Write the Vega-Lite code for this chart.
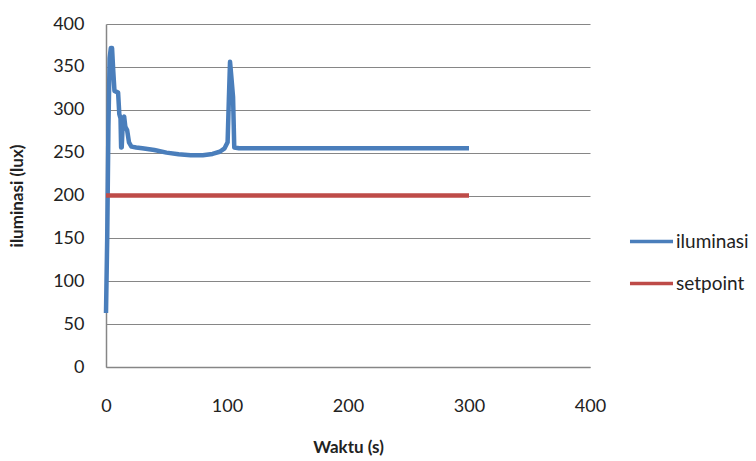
{
  "$schema": "https://vega.github.io/schema/vega-lite/v6.json",
  "width": 484,
  "height": 343,
  "autosize": {"type": "none"},
  "padding": {"left": 106, "top": 24, "right": 166, "bottom": 94},
  "background": "white",
  "config": {
    "view": {"stroke": null},
    "font": "Lato"
  },
  "data": {
    "values": [
      {"t": 0, "v": 63, "s": "iluminasi"},
      {"t": 1, "v": 150, "s": "iluminasi"},
      {"t": 2, "v": 280, "s": "iluminasi"},
      {"t": 3, "v": 360, "s": "iluminasi"},
      {"t": 4, "v": 372, "s": "iluminasi"},
      {"t": 5, "v": 372, "s": "iluminasi"},
      {"t": 6, "v": 345, "s": "iluminasi"},
      {"t": 7, "v": 322, "s": "iluminasi"},
      {"t": 10, "v": 320, "s": "iluminasi"},
      {"t": 11, "v": 295, "s": "iluminasi"},
      {"t": 12, "v": 290, "s": "iluminasi"},
      {"t": 12.5, "v": 256, "s": "iluminasi"},
      {"t": 13, "v": 256, "s": "iluminasi"},
      {"t": 14, "v": 290, "s": "iluminasi"},
      {"t": 15, "v": 292, "s": "iluminasi"},
      {"t": 16, "v": 280, "s": "iluminasi"},
      {"t": 17.5, "v": 276, "s": "iluminasi"},
      {"t": 19, "v": 262, "s": "iluminasi"},
      {"t": 21, "v": 257, "s": "iluminasi"},
      {"t": 25, "v": 256, "s": "iluminasi"},
      {"t": 30, "v": 255, "s": "iluminasi"},
      {"t": 40, "v": 253, "s": "iluminasi"},
      {"t": 50, "v": 250, "s": "iluminasi"},
      {"t": 60, "v": 248, "s": "iluminasi"},
      {"t": 70, "v": 247, "s": "iluminasi"},
      {"t": 80, "v": 247, "s": "iluminasi"},
      {"t": 88, "v": 248.5, "s": "iluminasi"},
      {"t": 94, "v": 251, "s": "iluminasi"},
      {"t": 98, "v": 255, "s": "iluminasi"},
      {"t": 100.5, "v": 262, "s": "iluminasi"},
      {"t": 101.5, "v": 310, "s": "iluminasi"},
      {"t": 102.5, "v": 356, "s": "iluminasi"},
      {"t": 103.5, "v": 340, "s": "iluminasi"},
      {"t": 105, "v": 315, "s": "iluminasi"},
      {"t": 106, "v": 256, "s": "iluminasi"},
      {"t": 110, "v": 255, "s": "iluminasi"},
      {"t": 300, "v": 255, "s": "iluminasi"},
      {"t": 0, "v": 200, "s": "setpoint"},
      {"t": 300, "v": 200, "s": "setpoint"}
    ]
  },
  "mark": {"type": "line", "strokeWidth": 4.5, "strokeJoin": "round", "strokeCap": "butt"},
  "encoding": {
    "x": {
      "field": "t", "type": "quantitative",
      "scale": {"domain": [0, 400], "nice": false},
      "axis": {
        "values": [0, 100, 200, 300, 400],
        "grid": false, "ticks": false, "labelFlush": false,
        "domainColor": "#868686", "domainWidth": 1.5,
        "labelFont": "Lato", "labelFontSize": 18, "labelColor": "#222222", "labelPadding": 30,
        "title": "Waktu (s)", "titleFont": "Lato", "titleFontSize": 17, "titleFontWeight": "bold",
        "titleColor": "#222222", "titlePadding": 24
      }
    },
    "y": {
      "field": "v", "type": "quantitative",
      "scale": {"domain": [0, 400], "nice": false},
      "axis": {
        "values": [0, 50, 100, 150, 200, 250, 300, 350, 400],
        "grid": true, "gridColor": "#868686", "gridWidth": 1.2,
        "ticks": false,
        "domainColor": "#868686", "domainWidth": 1.5,
        "labelFont": "Lato", "labelFontSize": 18, "labelColor": "#222222", "labelPadding": 22,
        "title": "iluminasi (lux)", "titleFont": "Lato", "titleFontSize": 17, "titleFontWeight": "bold",
        "titleColor": "#222222", "titlePadding": 26
      }
    },
    "color": {
      "field": "s", "type": "nominal",
      "scale": {"domain": ["iluminasi", "setpoint"], "range": ["#4A7EBB", "#BE4B48"]},
      "legend": {
        "title": null, "orient": "none", "legendX": 522, "legendY": 194,
        "symbolType": "stroke", "symbolSize": 1850, "symbolStrokeWidth": 3.5,
        "labelFont": "Lato", "labelFontSize": 19, "labelColor": "#222222", "labelOffset": 1,
        "rowPadding": 8
      }
    }
  }
}
